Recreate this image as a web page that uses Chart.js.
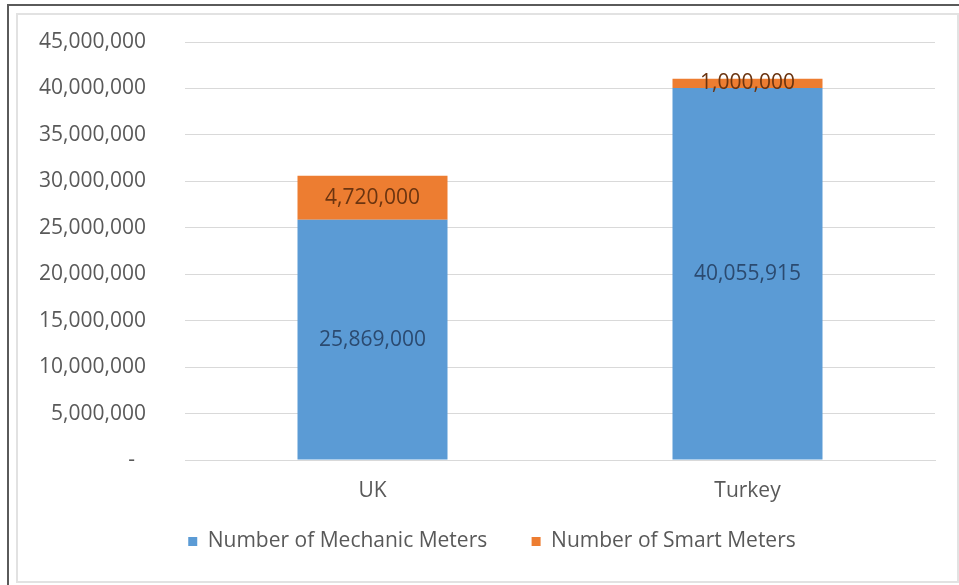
<!DOCTYPE html>
<html lang="en">
<head>
  <meta charset="UTF-8">
  <title>Mechanic vs Smart Meters</title>
  <style>
    html, body { margin: 0; padding: 0; background: #fff; }
    body { width: 959px; height: 585px; position: relative; overflow: hidden; }
    .frame-outer {
      position: absolute; left: 7px; top: 4px; right: 0; bottom: 0;
      border-top: 2px solid #5a5a5a; border-left: 2px solid #5a5a5a;
    }
    .frame-inner {
      position: absolute; left: 16px; top: 13px; width: 939px; height: 566px;
      border: 2px solid #e2e2e2;
    }
    .chart-box {
      position: absolute; left: 17px; top: 14px; width: 939px; height: 566px;
    }
  </style>
</head>
<body>
  <div class="frame-outer"></div>
  <div class="frame-inner"></div>
  <div class="chart-box"><canvas id="meterChart"></canvas></div>

  <script src="https://cdn.jsdelivr.net/npm/chart.js"></script>
  <script>
    const countries = ['UK', 'Turkey'];
    const mechanicMeters = [25869000, 40055915];
    const smartMeters = [4720000, 1000000];
    const yTicks = [0, 5000000, 10000000, 15000000, 20000000, 25000000, 30000000, 35000000, 40000000, 45000000];

    const FONT = "'Open Sans', 'DejaVu Sans', sans-serif";
    const SIZE = 21;
    const fmt = v => v.toLocaleString('en-US');

    // writes each segment's value in the middle of its bar piece
    const segmentLabels = {
      id: 'segmentLabels',
      afterDatasetsDraw(chart) {
        const ctx = chart.ctx;
        ctx.save();
        ctx.font = SIZE + 'px ' + FONT;
        ctx.textAlign = 'center';
        ctx.textBaseline = 'middle';
        chart.data.datasets.forEach((ds, i) => {
          chart.getDatasetMeta(i).data.forEach((bar, j) => {
            const y = (bar.y + bar.base) / 2;
            ctx.fillStyle = ds.labelColor;
            ctx.fillText(fmt(ds.data[j]), bar.x, y);
          });
        });
        ctx.restore();
      }
    };

    // nudge the legend a bit to the right, under the plot
    const legendShift = {
      id: 'legendShift',
      afterLayout(chart) {
        chart.legend.left += 16;
        chart.legend.right += 16;
      }
    };

    new Chart(document.getElementById('meterChart'), {
      type: 'bar',
      data: {
        labels: countries,
        datasets: [
          {
            label: 'Number of Mechanic Meters',
            data: mechanicMeters,
            backgroundColor: '#5b9bd5',
            labelColor: '#2b4a70'
          },
          {
            label: 'Number of Smart Meters',
            data: smartMeters,
            backgroundColor: '#ed7d31',
            labelColor: '#6b3410'
          }
        ]
      },
      options: {
        responsive: true,
        maintainAspectRatio: false,
        animation: false,
        layout: { padding: { top: 28, right: 21, bottom: 18, left: 0 } },
        datasets: { bar: { categoryPercentage: 1, barPercentage: 0.4 } },
        scales: {
          x: {
            stacked: true,
            grid: { display: false, drawTicks: false },
            border: { display: true, color: '#d9d9d9' },
            ticks: { color: '#595959', font: { family: FONT, size: SIZE }, padding: 18 },
            afterFit(scale) { scale.height = 43; }
          },
          y: {
            stacked: true,
            min: 0,
            max: 45000000,
            afterBuildTicks(scale) { scale.ticks = yTicks.map(v => ({ value: v })); },
            grid: { color: '#d9d9d9', drawTicks: true, tickLength: 39, tickColor: 'rgba(0,0,0,0)' },
            border: { display: false },
            ticks: {
              color: '#595959',
              font: { family: FONT, size: SIZE },
              padding: 0,
              callback: v => v === 0 ? '-  ' : fmt(v)
            },
            afterFit(scale) { scale.width = 168; }
          }
        },
        plugins: {
          legend: {
            position: 'bottom',
            labels: {
              boxWidth: 9,
              boxHeight: 9,
              padding: 28,
              color: '#595959',
              font: { family: FONT, size: SIZE },
              generateLabels(chart) {
                const items = Chart.defaults.plugins.legend.labels.generateLabels(chart);
                // a little extra room after the first entry
                items[0].text += '   ';
                return items;
              }
            }
          },
          tooltip: { enabled: false }
        }
      },
      plugins: [segmentLabels, legendShift]
    });
  </script>
</body>
</html>
